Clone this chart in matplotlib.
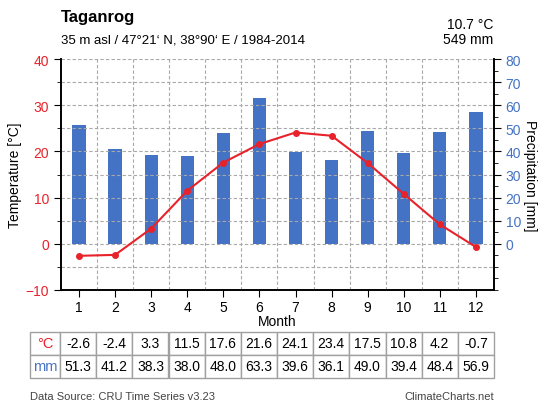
import matplotlib.pyplot as plt
import numpy as np
from matplotlib.ticker import MultipleLocator

plt.rcParams["font.family"] = ["Liberation Sans", "DejaVu Sans"]

months = list(range(1, 13))
temp = [-2.6, -2.4, 3.3, 11.5, 17.6, 21.6, 24.1, 23.4, 17.5, 10.8, 4.2, -0.7]
prec = [51.3, 41.2, 38.3, 38.0, 48.0, 63.3, 39.6, 36.1, 49.0, 39.4, 48.4, 56.9]

RED = "#e8222a"
BLUE = "#4472c4"

fig = plt.figure(figsize=(5.47, 4.06), dpi=100)
ax = fig.add_axes([0.1115, 0.2833, 0.7915, 0.5687])
ax2 = ax.twinx()

# precipitation bars on the right axis (mm = 2 x degC)
ax2.bar(months, prec, width=0.37, color=BLUE, zorder=2)
ax2.set_ylim(-20, 80)
ax2.set_yticks(np.arange(0, 81, 10))
ax2.yaxis.set_minor_locator(MultipleLocator(5))
ax2.tick_params(axis="y", colors=BLUE, labelsize=10, length=5)
ax2.tick_params(axis="y", which="minor", length=3, color="black")
ax2.tick_params(axis="y", which="major", color="black")
ax2.set_ylabel("Precipitation [mm]", rotation=270, labelpad=14, fontsize=10)
ax2.yaxis.set_label_coords(1.1, 0.5)

# temperature line on top
ax.set_zorder(ax2.get_zorder() + 1)
ax.patch.set_visible(False)
ax.plot(months, temp, color=RED, lw=1.5, marker="o", ms=4, zorder=3)
ax.set_xlim(0.5, 12.5)
ax.set_ylim(-10, 40)
ax.set_yticks(np.arange(-10, 41, 10))
ax.yaxis.set_minor_locator(MultipleLocator(5))
ax.tick_params(axis="y", labelcolor=RED, labelsize=10, length=5)
ax.tick_params(axis="y", which="minor", length=3)
ax.set_xticks(months)
ax.tick_params(axis="x", labelsize=10, length=5, pad=2)
ax.set_ylabel("Temperature [°C]", fontsize=10)
ax.yaxis.set_label_coords(-0.09, 0.5)
ax.set_xlabel("Month", fontsize=10, labelpad=0)

# dashed grid: every 5 degC and between months
gkw = dict(color="#a8a8a8", ls=(0, (3, 2)), lw=0.8, zorder=0)
for y in np.arange(-5, 41, 5):
    ax.axhline(y, **gkw)
for x in np.arange(1.5, 12, 1):
    ax.axvline(x, **gkw)

for a in (ax, ax2):
    a.spines["top"].set_visible(False)
    for s in ("left", "right", "bottom"):
        a.spines[s].set_linewidth(1.2)

# header
fig.text(0.1115, 0.957, "Taganrog", fontsize=12, fontweight="bold", va="center")
fig.text(0.1115, 0.901, "35 m asl / 47°21‘ N, 38°90‘ E / 1984-2014", fontsize=9.5, va="center")
fig.text(493 / 547, 1 - 25 / 406, "10.7 °C", fontsize=10, va="center", ha="right")
fig.text(493 / 547, 1 - 40 / 406, "549 mm", fontsize=10, va="center", ha="right")

# table
tax = fig.add_axes([30 / 547, 1 - 379 / 406, 464 / 547, 46 / 406])
tax.axis("off")
cells = [["°C"] + [f"{v:.1f}" for v in temp], ["mm"] + [f"{v:.1f}" for v in prec]]
first_w = 30 / 464
col_w = [first_w] + [(1 - first_w) / 12] * 12
tbl = tax.table(cellText=cells, colWidths=col_w, bbox=[0, 0, 1, 1], cellLoc="center")
tbl.auto_set_font_size(False)
tbl.set_fontsize(10)
for (r, c), cell in tbl.get_celld().items():
    cell.set_edgecolor("#a0a0a0")
    cell.set_linewidth(1.0)
tbl[0, 0].get_text().set_color(RED)
tbl[1, 0].get_text().set_color(BLUE)
tbl[0, 0].get_text().set_fontsize(10.5)
tbl[1, 0].get_text().set_fontsize(10.5)

# footer
fig.text(30 / 547, 1 - 397 / 406, "Data Source: CRU Time Series v3.23", fontsize=8, color="#444444", va="center")
fig.text(494 / 547, 1 - 397 / 406, "ClimateCharts.net", fontsize=8, color="#444444", va="center", ha="right")

fig.savefig("out.png", dpi=100)
